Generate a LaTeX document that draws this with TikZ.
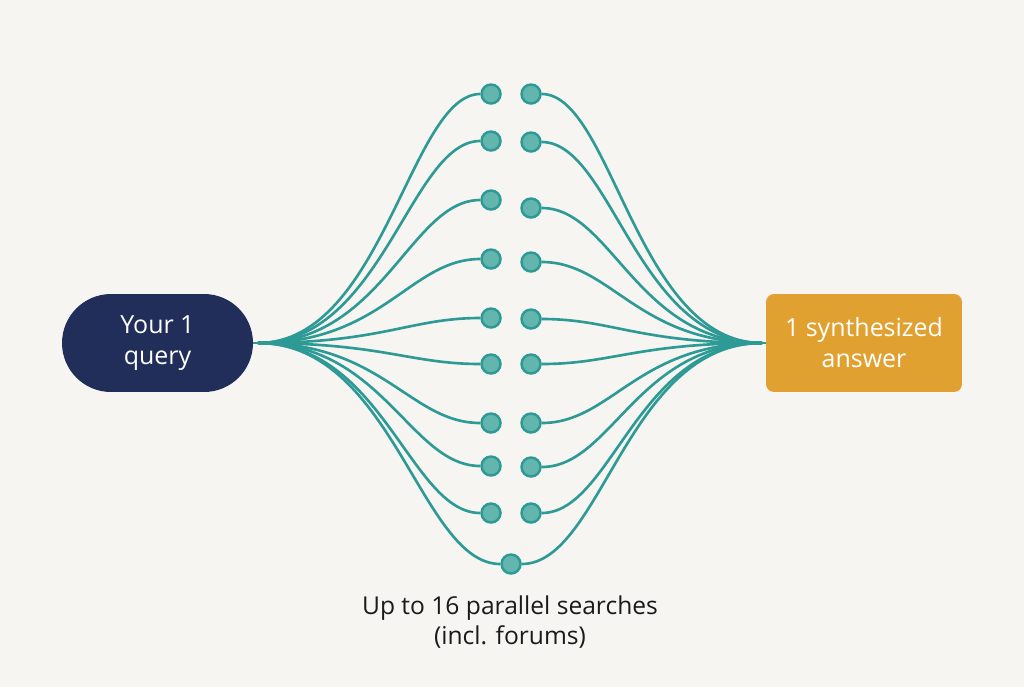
\documentclass[tikz,border=0pt]{standalone}
\usepackage{fontspec}
\setmainfont{Open Sans}
\usepackage{tikz}
\usetikzlibrary{positioning, calc, backgrounds}

\definecolor{paper}{HTML}{F6F5F1}
\definecolor{navy}{HTML}{222E5A}
\definecolor{amber}{HTML}{E1A131}
\definecolor{teal}{HTML}{2E9A96}
\definecolor{tealfill}{HTML}{63B6AE}
\definecolor{ink}{HTML}{1A1A1A}

\begin{document}
\begin{tikzpicture}[
  x=0.02cm, y=-0.02cm,
  endpoint/.style={text=white, align=center, font=\fontsize{14.2}{17.5}\selectfont, inner sep=0pt},
  searchdot/.style={circle, draw=teal, fill=tealfill, line width=1.4pt, minimum size=0.38cm, inner sep=0pt},
  link/.style={draw=teal, line width=1.5pt},
  ]

  % canvas
  \begin{scope}[on background layer]
    \fill[paper] (0,0) rectangle (1024,687);
  \end{scope}
  \useasboundingbox (0,0) rectangle (1024,687);

  % query and answer
  \node[endpoint, fill=navy, rounded corners=0.98cm, minimum width=3.82cm, minimum height=1.96cm] (query) at (157.5,343) {Your 1\\query};
  \node[endpoint, fill=amber, rounded corners=0.16cm, minimum width=3.92cm, minimum height=1.96cm] (answer) at (864,343) {1 synthesized\\answer};

  % fan points
  \coordinate (fanL) at (258,343);
  \coordinate (fanR) at (762,343);
  \draw[link] (query.east) -- (fanL);
  \draw[link] (fanR) -- (answer.west);

  % parallel searches
  \foreach \i/\yl/\yr in {1/94/94, 2/141/142, 3/200/208, 4/259/262, 5/318/319, 6/364/364, 7/423/423, 8/466/467, 9/513/513} {
    \node[searchdot] (l\i) at (491,\yl) {};
    \node[searchdot] (r\i) at (531,\yr) {};
    \begin{scope}[on background layer]
      \draw[link] (fanL) .. controls +(125,0) and +(-70,0) .. (l\i.west);
      \draw[link] (r\i.east) .. controls +(70,0) and +(-125,0) .. (fanR);
    \end{scope}
  }
  \node[searchdot] (b) at (511,564) {};
  \begin{scope}[on background layer]
    \draw[link] (fanL) .. controls +(135,0) and +(-80,0) .. (b.west);
    \draw[link] (b.east) .. controls +(80,0) and +(-135,0) .. (fanR);
  \end{scope}

  % caption
  \node[text=ink, align=center, font=\fontsize{14}{17.5}\selectfont] (caption) at (510,622) {Up to 16 parallel searches\\(incl. forums)};

\end{tikzpicture}
\end{document}
